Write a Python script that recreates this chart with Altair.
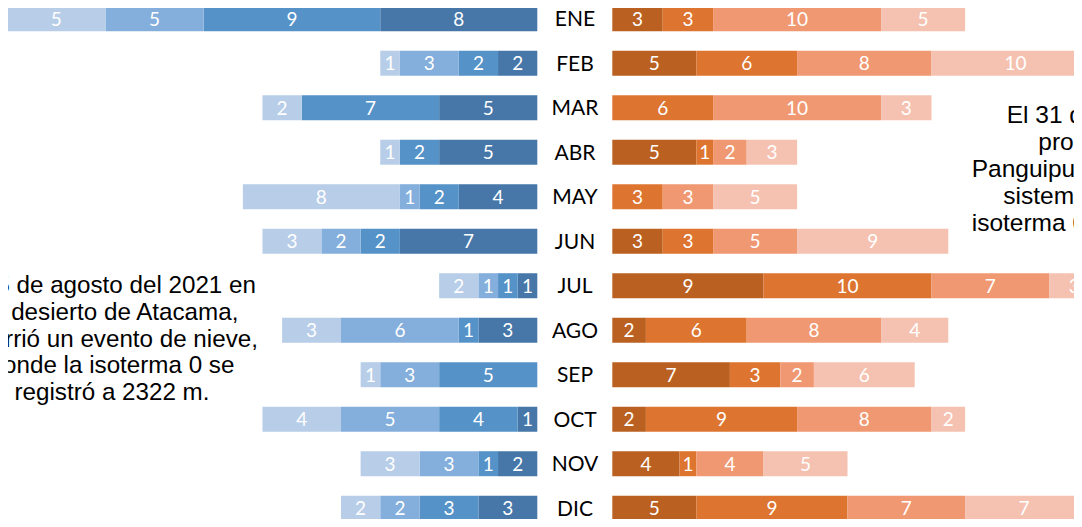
import altair as alt
import pandas as pd

months = ["ENE", "FEB", "MAR", "ABR", "MAY", "JUN", "JUL", "AGO", "SEP", "OCT", "NOV", "DIC"]

# Left (blue) side, listed from the centre outward
left_dark     = [8, 2, 5, 5, 4, 7, 1, 3, 0, 1, 2, 3]
left_medium   = [9, 2, 7, 2, 2, 2, 1, 1, 5, 4, 1, 3]
left_light    = [5, 3, 0, 0, 1, 2, 1, 6, 3, 5, 3, 2]
left_lightest = [5, 1, 2, 1, 8, 3, 2, 3, 1, 4, 3, 2]

# Right (orange) side, listed from the centre outward
right_dark   = [3, 5, 0, 5, 0, 3, 9, 2, 7, 2, 4, 5]
right_orange = [3, 6, 6, 1, 3, 3, 10, 6, 3, 9, 1, 9]
right_salmon = [10, 8, 10, 2, 3, 5, 7, 8, 2, 8, 4, 7]
right_light  = [5, 10, 3, 3, 5, 9, 3, 4, 6, 2, 5, 7]

left_series = ["Azul 1", "Azul 2", "Azul 3", "Azul 4"]
right_series = ["Naranja 1", "Naranja 2", "Naranja 3", "Naranja 4"]
left_colors = ["#4677A8", "#5592C8", "#84AEDB", "#B7CDE8"]
right_colors = ["#BA6122", "#DD7430", "#F09872", "#F5C2B1"]

left_note = ["El 5 de agosto del 2021 en", "el desierto de Atacama,",
             "ocurrió un evento de nieve,", "donde la isoterma 0 se",
             "registró a 2322 m."]
right_note = ["El 31 de", "produjo", "Panguipulli", "sistema", "isoterma 0"]


def long_table(series_names, columns):
    rows = []
    for order, (name, vals) in enumerate(zip(series_names, columns)):
        for m, v in zip(months, vals):
            rows.append({"mes": m, "serie": name, "orden": order, "valor": v})
    return pd.DataFrame(rows)


df_left = long_table(left_series, [left_dark, left_medium, left_light, left_lightest])
df_right = long_table(right_series, [right_dark, right_orange, right_salmon, right_light])

Y = alt.Y("mes:N", sort=months, axis=None,
          scale=alt.Scale(domain=months, range=[-1.8, 512.7],
                          paddingInner=19.5 / 44.5, paddingOuter=0))

sx_left = alt.Scale(domain=[0, 27], range=[529.3, -0.7], zero=False, nice=False)
sx_right = alt.Scale(domain=[0, 30], range=[604.3, 1108.3], zero=False, nice=False)


def side(df, series, colors, sx):
    base = (alt.Chart(df)
            .transform_filter("datum.valor > 0")
            .transform_stack(stack="valor", groupby=["mes"], as_=["x0", "x1"],
                             sort=[alt.SortField("orden", order="ascending")])
            .transform_calculate(xm="(datum.x0 + datum.x1) / 2"))
    bars = base.mark_bar().encode(
        y=Y,
        x=alt.X("x0:Q", scale=sx, axis=None),
        x2="x1:Q",
        color=alt.Color("serie:N", scale=alt.Scale(domain=series, range=colors), legend=None),
    )
    labels = base.mark_text(color="white", font="Lato", fontSize=19,
                            align="center", baseline="middle", dy=1).encode(
        y=Y,
        x=alt.X("xm:Q", scale=sx, axis=None),
        text="valor:Q",
    )
    return alt.layer(bars, labels)


left = side(df_left, left_series, left_colors, sx_left)
right = side(df_right, right_series, right_colors, sx_right)

month_labels = alt.Chart(pd.DataFrame({"mes": months})).mark_text(
    font="Lato", fontSize=21, color="black", align="center", baseline="middle", dy=1.5
).encode(y=Y, x=alt.value(567), text="mes:N")

note_left = alt.Chart(pd.DataFrame({"k": [0]})).mark_text(
    text=left_note, align="center", baseline="alphabetic", lineHeight=26.8,
    font="Liberation Sans", fontSize=24.2, color="black"
).encode(x=alt.value(104), y=alt.value(285))

right_x = [998.7, 1030.3, 963.7, 995.3, 963.7]
note_right_layers = []
for i, (line, xp) in enumerate(zip(right_note, right_x)):
    note_right_layers.append(
        alt.Chart(pd.DataFrame({"k": [0]})).mark_text(
            text=line, align="left", baseline="alphabetic",
            font="Liberation Sans", fontSize=24.5, color="black"
        ).encode(x=alt.value(xp), y=alt.value(115 + 27 * i))
    )

chart = (alt.layer(left, right, month_labels, note_left, *note_right_layers)
         .resolve_scale(x="independent", color="independent")
         .properties(width=1066, height=511, padding=0,
                     autosize=alt.AutoSizeParams(type="none"))
         .configure_view(strokeWidth=0))

chart.save("out.html", embed_options={"renderer": "svg", "actions": False})
